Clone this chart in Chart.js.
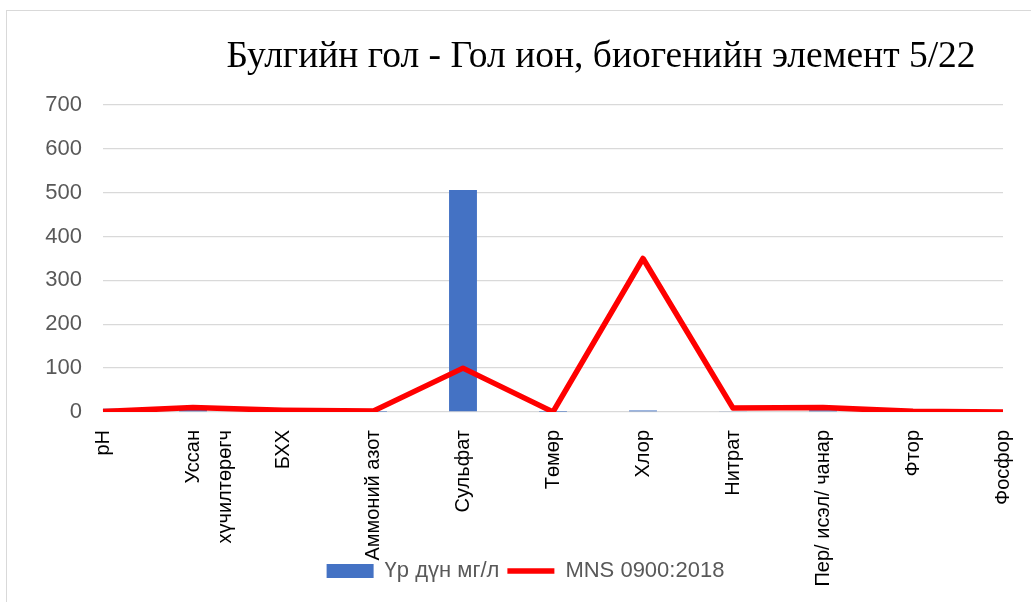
<!DOCTYPE html>
<html><head><meta charset="utf-8">
<script src="https://cdn.jsdelivr.net/npm/chart.js@4.4.0/dist/chart.umd.min.js"></script>
<style>
html,body{margin:0;padding:0;background:#fff;overflow:hidden;width:1031px;height:602px;}
#frame{position:absolute;left:6px;top:10px;width:1100px;height:700px;border-left:1px solid #d9d9d9;border-top:1px solid #d9d9d9;}
#wrap{position:absolute;left:0;top:0;width:1031px;height:700px;}
</style></head><body>
<div id="frame"></div>
<div id="wrap"><canvas id="c" width="1031" height="700"></canvas></div>
<script>
const categories = ['pH', ['Уссан', 'хүчилтөрөгч'], 'БХХ', 'Аммоний азот', 'Сульфат', 'Төмөр', 'Хлор', 'Нитрат', 'Пер/ исэл/ чанар', 'Фтор', 'Фосфор'];
const resultValues = [7.6, 8, 2, 0.3, 506, 0.2, 3.5, 1.2, 4, 0.4, 0.05];
const standardValues = [1, 10, 4, 2, 100, 0.3, 350, 9, 10, 1.5, 0.1];
const yTickValues = [0, 100, 200, 300, 400, 500, 600, 700];
const seriesNames = ['Үр дүн мг/л', 'MNS 0900:2018'];
const titleText = 'Булгийн гол - Гол ион, биогенийн элемент 5/22';

const placePlugin = {
  id: 'place',
  beforeLayout(chart) {
    const lg = chart.legend;
    if (lg && !lg._patched) {
      const f = lg.fit;
      lg.fit = function () { f.call(this); this._realH = this.height; this.height = 0; };
      lg._patched = true;
    }
  },
  afterLayout(chart) {
    const lg = chart.legend;
    const h = lg._realH || 40;
    lg.top = 552; lg.bottom = 552 + h; lg.height = h;
    lg.left += 24; lg.right += 24;
    const t = chart.titleBlock;
    t.left = 199; t.right = 1003;
  }
};

new Chart(document.getElementById('c'), {
  type: 'bar',
  data: {
    labels: categories,
    datasets: [
      { type: 'bar', label: seriesNames[0], data: resultValues, backgroundColor: '#4472c4', borderWidth: 0,
        order: 1, barPercentage: 0.31, categoryPercentage: 1, clip: 0 },
      { type: 'line', label: seriesNames[1], data: standardValues, borderColor: '#ff0000', backgroundColor: '#ff0000',
        borderWidth: 5.5, pointRadius: 0, pointHoverRadius: 0, pointBorderWidth: 5, pointBorderColor: '#ff0000',
        tension: 0, order: 0, borderJoinStyle: 'round' }
    ]
  },
  options: {
    responsive: false, animation: false, devicePixelRatio: 1,
    layout: { padding: { left: 0, right: 28, top: 0, bottom: 0 } },
    scales: {
      x: {
        type: 'category', offset: false,
        grid: { display: false }, border: { display: false },
        ticks: { autoSkip: false, maxRotation: 90, minRotation: 90, padding: 10, color: '#000',
          font: { family: 'Liberation Sans', size: 20, lineHeight: 1.6 } },
        afterFit(s) { s.height = 288; s.paddingLeft = 0; s.paddingRight = 0; }
      },
      y: {
        min: 0, max: 700,
        afterBuildTicks(s) { s.ticks = yTickValues.map(v => ({ value: v })); },
        grid: { color: '#d9d9d9', lineWidth: 1.3, drawTicks: false }, border: { display: false },
        ticks: { padding: 21, color: '#595959', font: { family: 'Liberation Sans', size: 22 } },
        afterFit(s) { s.width = 103; }
      }
    },
    plugins: {
      tooltip: { enabled: false },
      title: { display: true, text: titleText, color: '#000',
        font: { family: 'Liberation Serif', size: 37.5, weight: 'normal', lineHeight: 1.2 },
        padding: { top: 35, bottom: 25 } },
      legend: {
        position: 'bottom',
        labels: {
          color: '#595959', font: { family: 'Liberation Sans', size: 22 },
          usePointStyle: true, pointStyleWidth: 47, boxHeight: 14, padding: 8,
          sort: (a, b) => a.datasetIndex - b.datasetIndex,
          generateLabels(chart) {
            const items = Chart.defaults.plugins.legend.labels.generateLabels(chart);
            items.forEach(it => {
              if (it.datasetIndex === 0) { it.pointStyle = 'rect'; it.fillStyle = '#4472c4'; it.strokeStyle = '#4472c4'; it.lineWidth = 0; }
              else { it.pointStyle = 'line'; it.strokeStyle = '#ff0000'; it.lineWidth = 5.5; }
            });
            return items;
          }
        }
      }
    }
  },
  plugins: [placePlugin]
});
</script>
</body></html>
